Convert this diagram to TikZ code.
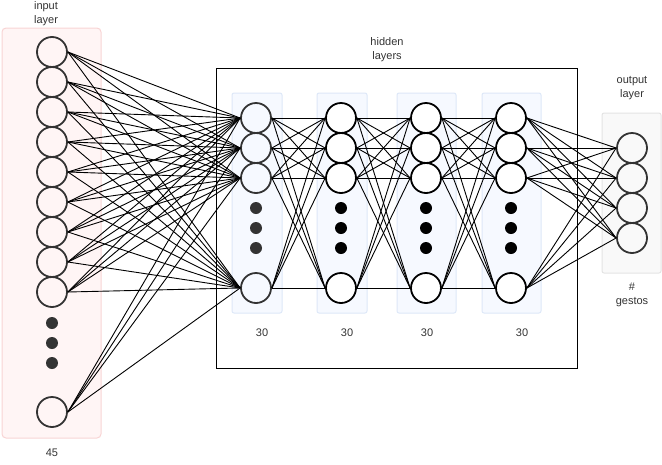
\documentclass[tikz,border=0pt]{standalone}
\usepackage{fontspec}
\setmainfont{Liberation Sans}
\definecolor{inborder}{RGB}{248,212,212}
\definecolor{infill}{RGB}{255,245,245}
\definecolor{hidborder}{RGB}{222,232,248}
\definecolor{hidfill}{RGB}{246,249,255}
\definecolor{outborder}{RGB}{228,228,228}
\definecolor{outfill}{RGB}{249,249,249}
\begin{document}
\begin{tikzpicture}[x=1pt,y=-1pt,
  lbl/.style={font=\fontsize{11}{14}\selectfont, text=black!80, align=center, inner sep=0pt},
  inbox/.style={draw=inborder, fill=infill, rounded corners=4pt, line width=1pt},
  hidbox/.style={draw=hidborder, fill=hidfill, rounded corners=2pt, line width=1pt},
  outbox/.style={draw=outborder, fill=outfill, rounded corners=2pt, line width=1pt},
  neur/.style={circle, minimum size=30pt, inner sep=0pt, line width=1.8pt, draw=black!80},
  neurw/.style={circle, minimum size=30pt, inner sep=0pt, line width=1.8pt, draw=black, fill=white},
  dotg/.style={circle, minimum size=12pt, inner sep=0pt, fill=black!80},
  dotk/.style={circle, minimum size=12pt, inner sep=0pt, fill=black},
  conn/.style={line width=0.9pt, black}]
\useasboundingbox (0,0) rectangle (662,464);
% background boxes
\draw[inbox] (2,28) rectangle (101,438);
\draw[line width=1pt, fill=white] (216,68) rectangle (577,368);
\draw[hidbox] (232,93) rectangle (282,313);
\draw[hidbox] (317,93) rectangle (367,313);
\draw[hidbox] (397,93) rectangle (456,313);
\draw[hidbox] (482,93) rectangle (541,313);
\draw[outbox] (602,113) rectangle (661,273);
% input nodes
\foreach \i/\y in {1/52,2/82,3/112,4/142,5/172,6/202,7/232,8/262,9/292,10/412}
  \node[neur] (i\i) at (52,\y) {};
\foreach \y in {323,343,363} \node[dotg] at (52,\y) {};
% hidden layers
\foreach \l/\x/\st/\ds in {1/256/neur/dotg,2/341/neurw/dotk,3/426/neurw/dotk,4/511/neurw/dotk}{
  \foreach \j/\y in {1/118,2/148,3/178,4/288}
    \node[\st] (h\l-\j) at (\x,\y) {};
  \foreach \y in {208,228,248} \node[\ds] at (\x,\y) {};
}
% output nodes
\foreach \j/\y in {1/148,2/178,3/208,4/238}
  \node[neur] (o\j) at (632,\y) {};
% connections
\foreach \i in {1,...,10}
  \foreach \j in {1,...,4}
    \draw[conn] (i\i.east) -- (h1-\j.west);
\foreach \l/\m in {1/2,2/3,3/4}
  \foreach \i in {1,...,4}
    \foreach \j in {1,...,4}
      \draw[conn] (h\l-\i.east) -- (h\m-\j.west);
\foreach \i in {1,...,4}
  \foreach \j in {1,...,4}
    \draw[conn] (h4-\i.east) -- (o\j.west);
% labels
\node[lbl] (tin) at (46,14) {input\\layer};
\node[lbl] (tin2) at (52,453) {45};
\node[lbl] (thid) at (387,50) {hidden\\layers};
\node[lbl] (tout) at (632,88) {output\\layer};
\node[lbl] (tout2) at (632,295) {\#\\gestos};
\node[lbl] (n1) at (262,333) {30};
\node[lbl] (n2) at (347,333) {30};
\node[lbl] (n3) at (427,333) {30};
\node[lbl] (n4) at (522,333) {30};
\end{tikzpicture}
\end{document}
